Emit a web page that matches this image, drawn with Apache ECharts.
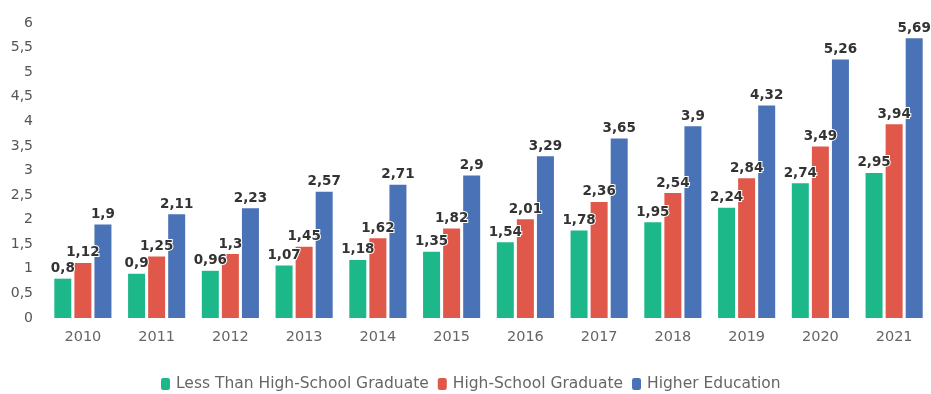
<!DOCTYPE html>
<html>
<head>
<meta charset="utf-8">
<script src="https://cdn.jsdelivr.net/npm/echarts@6/dist/echarts.min.js"></script>
<style>
html,body{margin:0;padding:0;background:#fff;}
#chart{width:931px;height:394px;}
</style>
</head>
<body>
<div id="chart"></div>
<script>
// Years on the category axis
const years = ['2010','2011','2012','2013','2014','2015','2016','2017','2018','2019','2020','2021'];
// Series values by education level
const lessThanHS = [0.8, 0.9, 0.96, 1.07, 1.18, 1.35, 1.54, 1.78, 1.95, 2.24, 2.74, 2.95];
const highSchool = [1.12, 1.25, 1.3, 1.45, 1.62, 1.82, 2.01, 2.36, 2.54, 2.84, 3.49, 3.94];
const higherEd = [1.9, 2.11, 2.23, 2.57, 2.71, 2.9, 3.29, 3.65, 3.9, 4.32, 5.26, 5.69];
const seriesNames = ['Less Than High-School Graduate', 'High-School Graduate', 'Higher Education'];

const colors = ['#1db889', '#e0584a', '#4a72b6'];
const fontFamily = '"DejaVu Sans", sans-serif';
const comma = v => String(v).replace('.', ',');

const chart = echarts.init(document.getElementById('chart'));

function makeSeries(name, data, color) {
  return {
    name: name,
    type: 'bar',
    data: data,
    barWidth: 17,
    barGap: '18%',
    itemStyle: { color: color },
    label: {
      show: true,
      position: 'top',
      distance: 3,
      color: '#333',
      fontFamily: fontFamily,
      fontWeight: 'bold',
      fontSize: 13.5,
      textBorderColor: '#fff',
      textBorderWidth: 2,
      formatter: p => comma(p.value)
    }
  };
}

chart.setOption({
  animation: false,
  color: colors,
  textStyle: { fontFamily: fontFamily },
  grid: { left: 46, right: -3, top: 23, bottom: 76 },
  legend: {
    bottom: 0,
    left: 156,
    padding: [5, 5, 2, 5],
    itemWidth: 9,
    itemHeight: 12,
    itemGap: 9,
    icon: 'roundRect',
    textStyle: { color: '#666', fontSize: 15.5, fontFamily: fontFamily, padding: [0, 0, 0, 1] },
    data: seriesNames
  },
  xAxis: {
    type: 'category',
    data: years,
    axisLine: { show: false },
    axisTick: { show: false },
    axisLabel: { color: '#666', fontSize: 14.5, margin: 12 }
  },
  yAxis: {
    type: 'value',
    min: 0,
    max: 6,
    interval: 0.5,
    splitLine: { show: false },
    axisLine: { show: false },
    axisTick: { show: false },
    axisLabel: { color: '#555', fontSize: 14, margin: 13, formatter: v => comma(v) }
  },
  series: [
    makeSeries(seriesNames[0], lessThanHS, colors[0]),
    makeSeries(seriesNames[1], highSchool, colors[1]),
    makeSeries(seriesNames[2], higherEd, colors[2])
  ]
});
</script>
</body>
</html>
